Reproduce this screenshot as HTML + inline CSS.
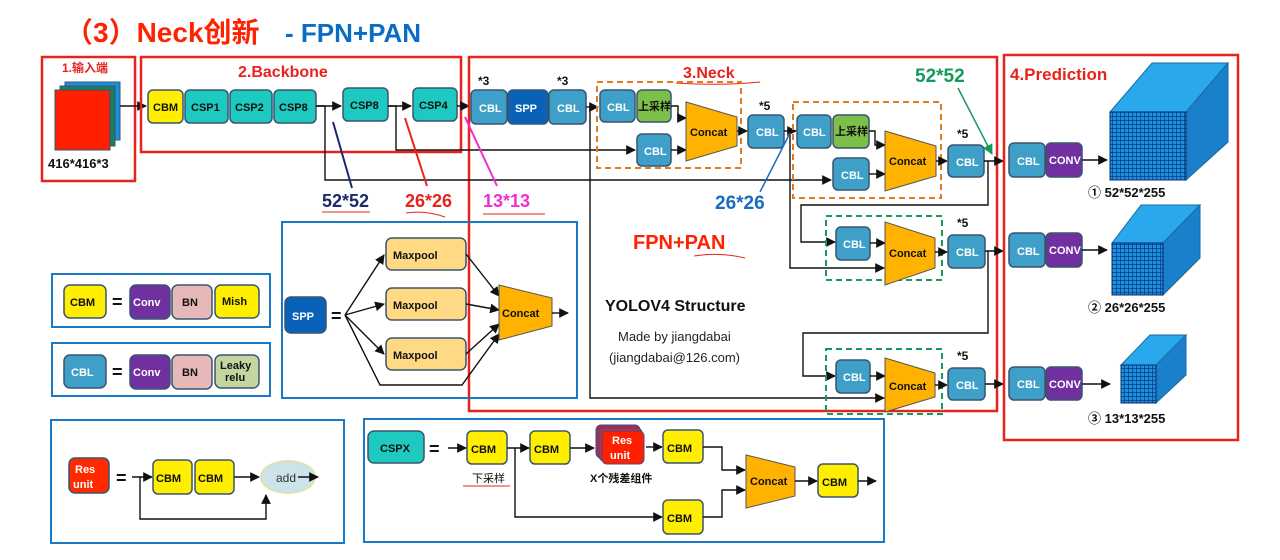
<!DOCTYPE html>
<html><head><meta charset="utf-8"><style>
html,body{margin:0;padding:0;background:#fff;width:1280px;height:560px;overflow:hidden}
svg{display:block}
text{font-family:"Liberation Sans","Noto Sans CJK SC",sans-serif;font-weight:bold}
.b{stroke:#3a5570;stroke-width:1.5}
.w{fill:#fff;font-size:11px}
.k{fill:#111;font-size:11px}
.ln{fill:none;stroke:#111;stroke-width:1.4}
</style></head><body>
<svg width="1280" height="560" viewBox="0 0 1280 560" xmlns="http://www.w3.org/2000/svg">
<defs>
<marker id="a" viewBox="0 0 10 10" refX="9" refY="5" markerWidth="7" markerHeight="7" orient="auto"><path d="M0,0L10,5L0,10z" fill="#111"/></marker>
<marker id="ag" viewBox="0 0 10 10" refX="9" refY="5" markerWidth="7" markerHeight="7" orient="auto"><path d="M0,0L10,5L0,10z" fill="#159a5a"/></marker>
<pattern id="grid" width="4" height="4" patternUnits="userSpaceOnUse"><rect width="4" height="4" fill="#1a8fe0"/><path d="M0,0H4M0,0V4" stroke="#0a2a6a" stroke-width="1.2"/></pattern>
</defs>

<!-- Title -->
<text x="65" y="42" font-size="28" fill="#ff2200">（3）Neck创新</text>
<text x="285" y="42" font-size="26" fill="#0a6cc4">- FPN+PAN</text>

<!-- Input -->
<rect x="42" y="57" width="93" height="124" fill="none" stroke="#e8231c" stroke-width="2.5"/>
<text x="62" y="72" font-size="12" fill="#e8231c">1.输入端</text>
<rect x="65" y="82" width="55" height="58" fill="#1a8fe0" stroke="#3a5570"/>
<rect x="60" y="86" width="55" height="60" fill="#188060" stroke="#3a5570"/>
<rect x="55" y="90" width="55" height="60" fill="#ff2000" stroke="#3a5570"/>
<text x="48" y="168" font-size="13" fill="#111">416*416*3</text>
<line x1="120" y1="106" x2="146" y2="106" class="ln" marker-end="url(#a)"/>

<!-- Backbone -->
<rect x="141" y="57" width="320" height="95" fill="none" stroke="#e8231c" stroke-width="2.5"/>
<text x="238" y="77" font-size="16" fill="#e8231c">2.Backbone</text>
<rect x="148" y="90" width="35" height="33" rx="5" fill="#ffee00" class="b"/><text x="153" y="111" class="k" font-size="10">CBM</text>
<rect x="185" y="90" width="43" height="33" rx="5" fill="#1ec9c0" class="b"/><text x="191" y="111" class="k">CSP1</text>
<rect x="230" y="90" width="42" height="33" rx="5" fill="#1ec9c0" class="b"/><text x="235" y="111" class="k">CSP2</text>
<rect x="274" y="90" width="42" height="33" rx="5" fill="#1ec9c0" class="b"/><text x="279" y="111" class="k">CSP8</text>
<line x1="316" y1="106" x2="341" y2="106" class="ln" marker-end="url(#a)"/>
<rect x="343" y="88" width="45" height="33" rx="5" fill="#1ec9c0" class="b"/><text x="350" y="109" class="k">CSP8</text>
<line x1="388" y1="106" x2="411" y2="106" class="ln" marker-end="url(#a)"/>
<rect x="413" y="88" width="44" height="33" rx="5" fill="#1ec9c0" class="b"/><text x="419" y="109" class="k">CSP4</text>
<line x1="457" y1="106" x2="469" y2="106" class="ln" marker-end="url(#a)"/>

<!-- Neck box -->
<rect x="469" y="57" width="528" height="354" fill="none" stroke="#e8231c" stroke-width="2.5"/>
<text x="683" y="78" font-size="16" fill="#e8231c">3.Neck</text>
<path d="M676,83 Q720,86 760,82" stroke="#e8231c" fill="none" stroke-width="1"/>
<text x="478" y="85" font-size="12" fill="#111">*3</text>
<text x="557" y="85" font-size="12" fill="#111">*3</text>
<rect x="471" y="90" width="36" height="34" rx="5" fill="#3e9fc9" class="b"/><text x="479" y="112" class="w">CBL</text>
<rect x="508" y="90" width="40" height="34" rx="5" fill="#0a62b8" class="b"/><text x="515" y="112" class="w" font-size="12">SPP</text>
<rect x="549" y="90" width="37" height="34" rx="5" fill="#3e9fc9" class="b"/><text x="557" y="112" class="w">CBL</text>
<line x1="586" y1="107" x2="598" y2="107" class="ln" marker-end="url(#a)"/>

<!-- backbone feeds -->
<polyline points="316,106 325,106 325,180 831,180" class="ln" marker-end="url(#a)"/>
<polyline points="388,106 396,106 396,150 635,150" class="ln" marker-end="url(#a)"/>
<polyline points="590,107 590,398 884,398" class="ln" marker-end="url(#a)"/>

<!-- box1 -->
<rect x="597" y="82" width="144" height="86" fill="none" stroke="#e07b20" stroke-width="2" stroke-dasharray="6,4"/>
<rect x="600" y="90" width="35" height="32" rx="5" fill="#3e9fc9" class="b"/><text x="607" y="111" class="w">CBL</text>
<rect x="637" y="90" width="34" height="32" rx="5" fill="#7cc04a" class="b"/><text x="638" y="110" class="k" font-size="10">上采样</text>
<rect x="637" y="134" width="34" height="32" rx="5" fill="#3e9fc9" class="b"/><text x="644" y="155" class="w">CBL</text>
<polyline points="671,106 678,106 678,118 686,118" class="ln" marker-end="url(#a)"/>
<line x1="671" y1="150" x2="686" y2="150" class="ln" marker-end="url(#a)"/>
<path d="M686,102 L737,117 L737,146 L686,161 Z" fill="#ffb300" stroke="#555"/>
<text x="690" y="136" class="k" font-size="10">Concat</text>
<line x1="737" y1="131" x2="747" y2="131" class="ln" marker-end="url(#a)"/>
<text x="759" y="110" font-size="12" fill="#111">*5</text>
<rect x="748" y="115" width="36" height="33" rx="5" fill="#3e9fc9" class="b"/><text x="756" y="136" class="w">CBL</text>
<line x1="784" y1="131" x2="796" y2="131" class="ln" marker-end="url(#a)"/>
<polyline points="790,131 790,268 884,268" class="ln" marker-end="url(#a)"/>

<!-- box2 -->
<rect x="793" y="102" width="148" height="96" fill="none" stroke="#e07b20" stroke-width="2" stroke-dasharray="6,4"/>
<rect x="797" y="115" width="34" height="33" rx="5" fill="#3e9fc9" class="b"/><text x="803" y="136" class="w">CBL</text>
<rect x="833" y="115" width="36" height="33" rx="5" fill="#7cc04a" class="b"/><text x="835" y="135" class="k" font-size="10">上采样</text>
<rect x="833" y="158" width="36" height="32" rx="5" fill="#3e9fc9" class="b"/><text x="841" y="179" class="w">CBL</text>
<polyline points="869,131 875,131 875,145 885,145" class="ln" marker-end="url(#a)"/>
<line x1="869" y1="174" x2="885" y2="174" class="ln" marker-end="url(#a)"/>
<path d="M885,131 L936,146 L936,176 L885,191 Z" fill="#ffb300" stroke="#555"/>
<text x="889" y="165" class="k" font-size="10">Concat</text>
<line x1="936" y1="161" x2="947" y2="161" class="ln" marker-end="url(#a)"/>
<text x="957" y="138" font-size="12" fill="#111">*5</text>
<rect x="948" y="145" width="36" height="32" rx="5" fill="#3e9fc9" class="b"/><text x="956" y="166" class="w">CBL</text>
<line x1="984" y1="161" x2="1003" y2="161" class="ln" marker-end="url(#a)"/>
<polyline points="988,161 988,205 801,205 801,242 835,242" class="ln" marker-end="url(#a)"/>

<!-- box3 -->
<rect x="826" y="216" width="116" height="64" fill="none" stroke="#159a5a" stroke-width="2" stroke-dasharray="6,4"/>
<rect x="836" y="227" width="34" height="33" rx="5" fill="#3e9fc9" class="b"/><text x="843" y="248" class="w">CBL</text>
<line x1="870" y1="243" x2="885" y2="243" class="ln" marker-end="url(#a)"/>
<path d="M885,222 L935,238 L935,268 L885,285 Z" fill="#ffb300" stroke="#555"/>
<text x="889" y="257" class="k" font-size="10">Concat</text>
<line x1="935" y1="252" x2="947" y2="252" class="ln" marker-end="url(#a)"/>
<text x="957" y="227" font-size="12" fill="#111">*5</text>
<rect x="948" y="235" width="37" height="33" rx="5" fill="#3e9fc9" class="b"/><text x="956" y="256" class="w">CBL</text>
<line x1="985" y1="251" x2="1003" y2="251" class="ln" marker-end="url(#a)"/>
<polyline points="988,251 988,333 803,333 803,376 835,376" class="ln" marker-end="url(#a)"/>

<!-- box4 -->
<rect x="826" y="349" width="116" height="65" fill="none" stroke="#159a5a" stroke-width="2" stroke-dasharray="6,4"/>
<rect x="836" y="360" width="34" height="33" rx="5" fill="#3e9fc9" class="b"/><text x="843" y="381" class="w">CBL</text>
<line x1="870" y1="376" x2="885" y2="376" class="ln" marker-end="url(#a)"/>
<path d="M885,358 L935,373 L935,397 L885,412 Z" fill="#ffb300" stroke="#555"/>
<text x="889" y="390" class="k" font-size="10">Concat</text>
<line x1="935" y1="385" x2="947" y2="385" class="ln" marker-end="url(#a)"/>
<text x="957" y="360" font-size="12" fill="#111">*5</text>
<rect x="948" y="368" width="37" height="32" rx="5" fill="#3e9fc9" class="b"/><text x="956" y="389" class="w">CBL</text>
<line x1="985" y1="384" x2="1003" y2="384" class="ln" marker-end="url(#a)"/>

<!-- annotations -->
<text x="915" y="82" font-size="19" fill="#159a5a">52*52</text>
<line x1="958" y1="88" x2="992" y2="154" stroke="#159a5a" stroke-width="1.5" marker-end="url(#ag)"/>
<text x="715" y="209" font-size="19" fill="#1a6cc0">26*26</text>
<line x1="760" y1="192" x2="790" y2="133" stroke="#1a6cc0" stroke-width="1.5"/>
<text x="633" y="249" font-size="20" fill="#ff2200">FPN+PAN</text>
<path d="M694,256 Q720,252 745,258" stroke="#e8231c" fill="none" stroke-width="1"/>
<text x="605" y="311" font-size="16" fill="#111">YOLOV4 Structure</text>
<text x="618" y="341" font-size="13" fill="#222" font-weight="normal" style="font-weight:normal">Made by jiangdabai</text>
<text x="609" y="362" font-size="13" fill="#222" style="font-weight:normal">(jiangdabai@126.com)</text>

<text x="322" y="207" font-size="18" fill="#1a2a6a">52*52</text>
<line x1="322" y1="212" x2="370" y2="212" stroke="#e8231c"/>
<line x1="352" y1="188" x2="333" y2="122" stroke="#1a2a6a" stroke-width="2"/>
<text x="405" y="207" font-size="18" fill="#e8231c">26*26</text>
<path d="M406,213 Q425,210 445,217" stroke="#e8231c" fill="none"/>
<line x1="427" y1="186" x2="405" y2="118" stroke="#e8231c" stroke-width="2"/>
<text x="483" y="207" font-size="18" fill="#ee30d0">13*13</text>
<line x1="483" y1="214" x2="545" y2="214" stroke="#e8231c"/>
<line x1="497" y1="186" x2="465" y2="117" stroke="#ee30d0" stroke-width="2"/>

<!-- Prediction -->
<rect x="1004" y="55" width="234" height="385" fill="none" stroke="#e8231c" stroke-width="2.5"/>
<text x="1010" y="80" font-size="17" fill="#e8231c">4.Prediction</text>
<g>
<rect x="1009" y="143" width="36" height="34" rx="5" fill="#3e9fc9" class="b"/><text x="1017" y="165" class="w">CBL</text>
<rect x="1046" y="143" width="36" height="34" rx="5" fill="#7030a0" class="b"/><text x="1049" y="164" class="w" font-size="10">CONV</text>
<line x1="1082" y1="160" x2="1107" y2="160" class="ln" stroke-width="2" marker-end="url(#a)"/>
<path d="M1110,112 L1152,63 L1228,63 L1186,112Z" fill="#2aa8ee" stroke="#1a6aa0"/>
<path d="M1186,112 L1228,63 L1228,142 L1186,180Z" fill="#1a80cc" stroke="#1a6aa0"/>
<rect x="1110" y="112" width="76" height="68" fill="url(#grid)" stroke="#0a2a6a"/>
<text x="1088" y="197" font-size="13" fill="#111">① 52*52*255</text>
</g>
<g>
<rect x="1009" y="233" width="36" height="34" rx="5" fill="#3e9fc9" class="b"/><text x="1017" y="255" class="w">CBL</text>
<rect x="1046" y="233" width="36" height="34" rx="5" fill="#7030a0" class="b"/><text x="1049" y="254" class="w" font-size="10">CONV</text>
<line x1="1082" y1="250" x2="1107" y2="250" class="ln" stroke-width="2" marker-end="url(#a)"/>
<path d="M1112,243 L1141,205 L1200,205 L1163,243Z" fill="#2aa8ee" stroke="#1a6aa0"/>
<path d="M1163,243 L1200,205 L1200,258 L1163,295Z" fill="#1a80cc" stroke="#1a6aa0"/>
<rect x="1112" y="243" width="51" height="52" fill="url(#grid)" stroke="#0a2a6a"/>
<text x="1088" y="312" font-size="13" fill="#111">② 26*26*255</text>
</g>
<g>
<rect x="1009" y="367" width="36" height="33" rx="5" fill="#3e9fc9" class="b"/><text x="1017" y="388" class="w">CBL</text>
<rect x="1046" y="367" width="36" height="33" rx="5" fill="#7030a0" class="b"/><text x="1049" y="388" class="w" font-size="10">CONV</text>
<line x1="1082" y1="384" x2="1110" y2="384" class="ln" stroke-width="2" marker-end="url(#a)"/>
<path d="M1121,365 L1150,335 L1186,335 L1156,365Z" fill="#2aa8ee" stroke="#1a6aa0"/>
<path d="M1156,365 L1186,335 L1186,375 L1156,403Z" fill="#1a80cc" stroke="#1a6aa0"/>
<rect x="1121" y="365" width="35" height="38" fill="url(#grid)" stroke="#0a2a6a"/>
<text x="1088" y="423" font-size="13" fill="#111">③ 13*13*255</text>
</g>

<!-- Legend CBM / CBL -->
<rect x="52" y="274" width="218" height="53" fill="none" stroke="#1a7ac8" stroke-width="2"/>
<rect x="64" y="285" width="42" height="33" rx="6" fill="#ffee00" class="b"/><text x="70" y="306" class="k" font-size="12">CBM</text>
<text x="112" y="308" font-size="18" fill="#111">=</text>
<rect x="130" y="285" width="40" height="34" rx="6" fill="#7030a0" class="b"/><text x="133" y="306" class="w" font-size="12">Conv</text>
<rect x="172" y="285" width="40" height="34" rx="6" fill="#e6b8b7" class="b"/><text x="182" y="306" class="k" font-size="12">BN</text>
<rect x="215" y="285" width="44" height="33" rx="6" fill="#ffee00" class="b"/><text x="222" y="305" class="k" font-size="10">Mish</text>

<rect x="52" y="343" width="218" height="53" fill="none" stroke="#1a7ac8" stroke-width="2"/>
<rect x="64" y="355" width="42" height="33" rx="6" fill="#3e9fc9" class="b"/><text x="71" y="376" class="w" font-size="12">CBL</text>
<text x="112" y="378" font-size="18" fill="#111">=</text>
<rect x="130" y="355" width="40" height="34" rx="6" fill="#7030a0" class="b"/><text x="133" y="376" class="w" font-size="12">Conv</text>
<rect x="172" y="355" width="40" height="34" rx="6" fill="#e6b8b7" class="b"/><text x="182" y="376" class="k" font-size="12">BN</text>
<rect x="215" y="355" width="44" height="33" rx="6" fill="#c4d6a0" class="b"/><text x="220" y="369" class="k" font-size="9">Leaky</text><text x="225" y="381" class="k" font-size="9">relu</text>

<!-- SPP legend -->
<rect x="282" y="222" width="295" height="176" fill="none" stroke="#1a7ac8" stroke-width="2"/>
<rect x="285" y="297" width="41" height="36" rx="6" fill="#0a62b8" class="b"/><text x="292" y="320" class="w" font-size="12">SPP</text>
<text x="331" y="322" font-size="18" fill="#111">=</text>
<line x1="345" y1="315" x2="384" y2="255" class="ln" marker-end="url(#a)"/>
<line x1="345" y1="315" x2="384" y2="304" class="ln" marker-end="url(#a)"/>
<line x1="345" y1="315" x2="384" y2="354" class="ln" marker-end="url(#a)"/>
<polyline points="345,315 380,385 462,385 499,334" class="ln" marker-end="url(#a)"/>
<rect x="386" y="238" width="80" height="32" rx="6" fill="#ffd983" class="b"/><text x="393" y="259" class="k" font-size="12">Maxpool</text>
<rect x="386" y="288" width="80" height="32" rx="6" fill="#ffd983" class="b"/><text x="393" y="309" class="k" font-size="12">Maxpool</text>
<rect x="386" y="338" width="80" height="32" rx="6" fill="#ffd983" class="b"/><text x="393" y="359" class="k" font-size="12">Maxpool</text>
<line x1="466" y1="254" x2="499" y2="296" class="ln" marker-end="url(#a)"/>
<line x1="466" y1="304" x2="499" y2="310" class="ln" marker-end="url(#a)"/>
<line x1="466" y1="354" x2="499" y2="324" class="ln" marker-end="url(#a)"/>
<path d="M499,285 L552,298 L552,326 L499,340 Z" fill="#ffb300" stroke="#555"/>
<text x="502" y="317" class="k" font-size="10">Concat</text>
<line x1="552" y1="313" x2="568" y2="313" class="ln" marker-end="url(#a)"/>

<!-- Res unit legend -->
<rect x="51" y="420" width="293" height="123" fill="none" stroke="#1a7ac8" stroke-width="2"/>
<rect x="69" y="458" width="40" height="35" rx="6" fill="#ff2a00" class="b"/><text x="75" y="473" class="w">Res</text><text x="73" y="488" class="w">unit</text>
<text x="116" y="484" font-size="18" fill="#111">=</text>
<line x1="132" y1="477" x2="152" y2="477" class="ln" marker-end="url(#a)"/>
<rect x="153" y="460" width="39" height="34" rx="5" fill="#ffee00" class="b"/><text x="156" y="482" class="k" font-size="12">CBM</text>
<rect x="195" y="460" width="39" height="34" rx="5" fill="#ffee00" class="b"/><text x="198" y="482" class="k" font-size="12">CBM</text>
<line x1="234" y1="477" x2="259" y2="477" class="ln" marker-end="url(#a)"/>
<ellipse cx="288" cy="477" rx="27" ry="16" fill="#cde3ea" stroke="#dde3b0" stroke-width="2"/>
<text x="276" y="482" fill="#333" font-size="12" style="font-weight:normal">add</text>
<line x1="316" y1="477" x2="316" y2="477"/><line x1="298" y1="477" x2="315" y2="477" class="ln"/>
<line x1="315" y1="477" x2="316" y2="477" class="ln"/>
<line x1="317" y1="477" x2="316" y2="477"/>
<line x1="300" y1="477" x2="317" y2="477" class="ln" marker-end="url(#a)" opacity="0"/>
<line x1="316" y1="477" x2="318" y2="477" class="ln" marker-end="url(#a)"/>
<polyline points="140,477 140,519 266,519 266,495" class="ln" marker-end="url(#a)"/>

<!-- CSPX legend -->
<rect x="364" y="419" width="520" height="123" fill="none" stroke="#1a7ac8" stroke-width="2"/>
<rect x="368" y="431" width="56" height="32" rx="6" fill="#1ec9c0" class="b"/><text x="380" y="452" class="k" font-size="11">CSPX</text>
<text x="429" y="455" font-size="18" fill="#111">=</text>
<line x1="448" y1="448" x2="466" y2="448" class="ln" marker-end="url(#a)"/>
<rect x="467" y="431" width="40" height="33" rx="5" fill="#ffee00" class="b"/><text x="471" y="453" class="k" font-size="12">CBM</text>
<text x="472" y="482" font-size="11" fill="#111" style="font-weight:normal">下采样</text>
<line x1="463" y1="486" x2="510" y2="486" stroke="#e8231c"/>
<line x1="507" y1="448" x2="529" y2="448" class="ln" marker-end="url(#a)"/>
<rect x="530" y="431" width="40" height="33" rx="5" fill="#ffee00" class="b"/><text x="534" y="453" class="k" font-size="12">CBM</text>
<line x1="570" y1="448" x2="594" y2="448" class="ln" marker-end="url(#a)"/>
<rect x="596" y="425" width="44" height="33" rx="5" fill="#a03050" stroke="#4a4a8a"/>
<rect x="599" y="428" width="43" height="33" rx="5" fill="#c03040" stroke="#4a4a8a"/>
<rect x="602" y="431" width="42" height="33" rx="5" fill="#ff2000" stroke="#4a4a8a"/>
<text x="612" y="444" class="w" font-size="11">Res</text><text x="610" y="459" class="w" font-size="11">unit</text>
<text x="590" y="482" font-size="11" fill="#111">X个残差组件</text>
<line x1="646" y1="447" x2="662" y2="447" class="ln" marker-end="url(#a)"/>
<rect x="663" y="430" width="40" height="33" rx="5" fill="#ffee00" class="b"/><text x="667" y="452" class="k" font-size="12">CBM</text>
<polyline points="703,447 722,447 722,470 745,470" class="ln" marker-end="url(#a)"/>
<polyline points="515,448 515,517 662,517" class="ln" marker-end="url(#a)"/>
<rect x="663" y="500" width="40" height="34" rx="5" fill="#ffee00" class="b"/><text x="667" y="522" class="k" font-size="12">CBM</text>
<polyline points="703,517 722,517 722,490 745,490" class="ln" marker-end="url(#a)"/>
<path d="M746,455 L795,467 L795,496 L746,508 Z" fill="#ffb300" stroke="#555"/>
<text x="750" y="485" class="k" font-size="10">Concat</text>
<line x1="795" y1="481" x2="817" y2="481" class="ln" marker-end="url(#a)"/>
<rect x="818" y="464" width="40" height="33" rx="5" fill="#ffee00" class="b"/><text x="822" y="486" class="k" font-size="12">CBM</text>
<line x1="858" y1="481" x2="876" y2="481" class="ln" marker-end="url(#a)"/>
</svg>
</body></html>
